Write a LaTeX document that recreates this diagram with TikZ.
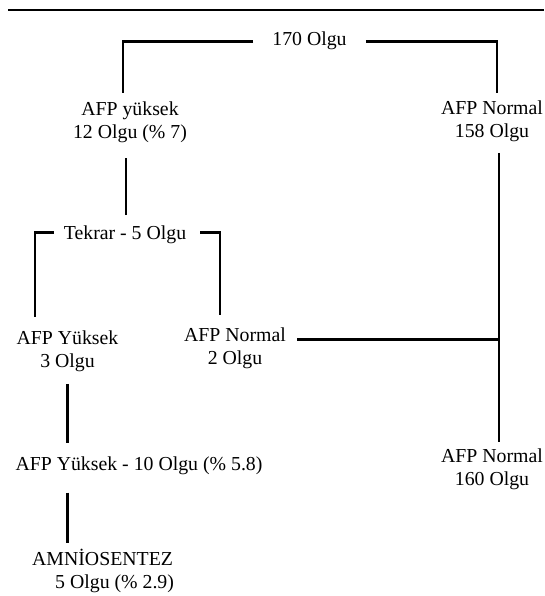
\documentclass[tikz,border=0pt]{standalone}
\usepackage{fontspec}
\setmainfont{Liberation Serif}
\usetikzlibrary{calc}
\newcommand{\olgu}{\fontsize{19.8}{22.5}\selectfont}
\tikzset{every node/.style={inner sep=0pt,font=\olgu,execute at begin node={\rule{0pt}{18pt}}},
  box/.style={align=center,anchor=north},link/.style={line width=2.8pt},rule/.style={line width=2.6pt}}

\begin{document}
\begin{tikzpicture}[x=1pt,y=-1pt]
\useasboundingbox (0,0) rectangle (544,596);
\draw[rule] (8,10)--(544,10);
\node[box] (total) at (309.5,27){170 Olgu};
\node[box] (yuksek) at (130,102){AFP yüksek\\12 Olgu (\% 7)};
\node[box] (normal1) at (492,101){AFP Normal\\158 Olgu};
\node[box] (tekrar) at (125,221){Tekrar - 5 Olgu};
\node[box] (yuksek2) at (67.5,331){AFP Yüksek\\3 Olgu};
\node[box] (normal2) at (235,328){AFP Normal\\2 Olgu};
\node[box] (yuksek10) at (139,452){AFP Yüksek - 10 Olgu (\% 5.8)};
\node[box] (normal3) at (492,449){AFP Normal\\160 Olgu};
\node[align=left,anchor=north west] (amnio) at (32,549){AMNİOSENTEZ\\\hspace*{23pt}5 Olgu (\% 2.9)};

\draw[link,shorten <=19pt,shorten >=9pt] ([yshift=-3pt]total.west) -| ([xshift=-7pt]yuksek.north);
\draw[link,shorten <=19pt,shorten >=8pt] ([yshift=-3pt]total.east) -| ([xshift=5pt]normal1.north);
\draw[link,shorten <=6pt,shorten >=15pt] ([xshift=1pt]tekrar.north) coordinate (stem) -- (stem |- yuksek.south);
\draw[link,shorten <=10pt,shorten >=14pt] (tekrar.west) -| ([xshift=-32.5pt]yuksek2.north);
\draw[link,shorten <=14pt,shorten >=13pt] (tekrar.east) -| ([xshift=-15pt]normal2.north);
\path ([xshift=7pt]normal1.south) coordinate (spine);
\draw[link,shorten <=11pt] ([yshift=9pt]normal2.east) coordinate (stub) -- (stub -| spine);
\draw[link,shorten <=11pt,shorten >=7pt] (spine) -- (spine |- normal3.north);
\draw[link,shorten <=12pt,shorten >=9pt] (yuksek2.south) coordinate (drop) -- (drop |- yuksek10.north);
\draw[link,shorten <=18pt,shorten >=6pt] (drop |- yuksek10.south) -- (drop |- amnio.north);
\end{tikzpicture}
\end{document}
